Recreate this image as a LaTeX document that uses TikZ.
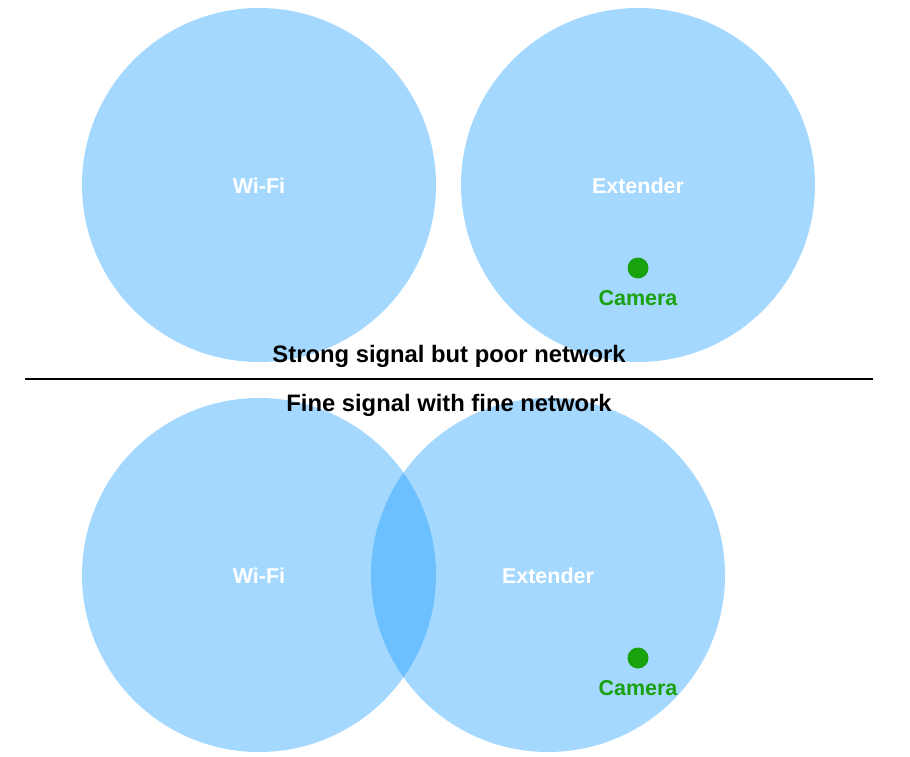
\documentclass[tikz,border=0pt]{standalone}
\usepackage{fontspec}
\setmainfont{Liberation Sans}
\definecolor{sig}{RGB}{20,155,255}
\definecolor{cam}{RGB}{26,161,14}
\begin{document}
\begin{tikzpicture}[x=1pt,y=-1pt,
  zone/.style={circle,fill=sig,fill opacity=0.39,minimum size=354pt,inner sep=0pt},
  lbl/.style={text=white,font=\fontsize{21.5}{24}\selectfont\bfseries},
  camdot/.style={circle,fill=cam,minimum size=21pt,inner sep=0pt},
  camlbl/.style={text=cam,font=\fontsize{21.5}{24}\selectfont\bfseries},
  title/.style={text=black,font=\fontsize{23.8}{26}\selectfont\bfseries}]
\useasboundingbox (0,0) rectangle (910,757);
% top
\node[zone] (w1) at (259,185) {};
\node[zone] (e1) at (638,185) {};
\node[lbl] at (259,186) {Wi-Fi};
\node[lbl] at (638,186) {Extender};
\node[camdot] (c1) at (638,268) {};
\node[camlbl] (cl1) at (638,298) {Camera};
% bottom
\node[zone] (w2) at (259,575) {};
\node[zone] (e2) at (548,575) {};
\node[lbl] at (259,576) {Wi-Fi};
\node[lbl] at (548,576) {Extender};
\node[camdot] (c2) at (638,658) {};
\node[camlbl] (cl2) at (638,688) {Camera};
% divider and titles
\coordinate (dl) at (25,379);
\coordinate (dr) at (873,379);
\draw[line width=1.5pt] (dl) -- (dr);
\node[title] (t1) at (449,356) {Strong signal but poor network};
\node[title] (t2) at (449,405) {Fine signal with fine network};
\end{tikzpicture}
\end{document}
